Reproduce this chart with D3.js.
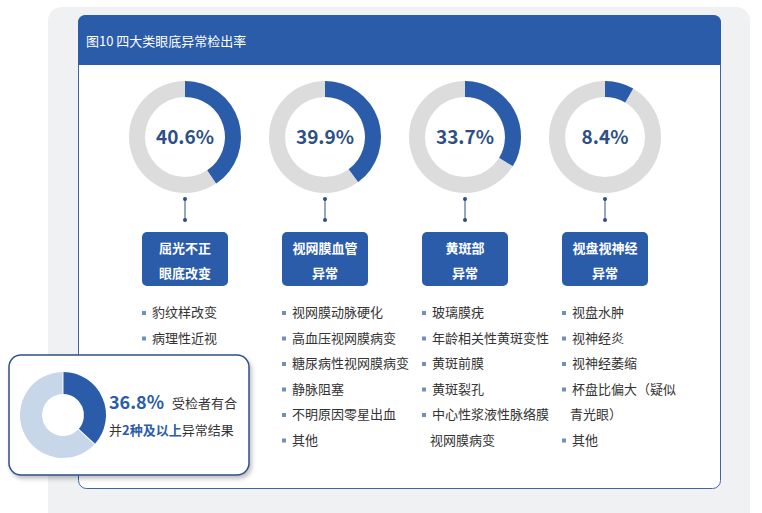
<!DOCTYPE html>
<html><head><meta charset="utf-8">
<script src="https://cdn.jsdelivr.net/npm/d3@7"></script>
<style>body{margin:0;background:#fff}svg{font-family:"Noto Sans CJK SC","Noto Sans",sans-serif}</style>
</head><body><svg id="c" width="762" height="513"></svg>
<script>
const title = "图10 四大类眼底异常检出率";
const categories = [["屈光不正","眼底改变"],["视网膜血管","异常"],["黄斑部","异常"],["视盘视神经","异常"]];
const rates = [40.6, 39.9, 33.7, 8.4];
const items = [
  ["豹纹样改变","病理性近视"],
  ["视网膜动脉硬化","高血压视网膜病变","糖尿病性视网膜病变","静脉阻塞","不明原因零星出血","其他"],
  ["玻璃膜疣","年龄相关性黄斑变性","黄斑前膜","黄斑裂孔","中心性浆液性脉络膜","视网膜病变"],
  ["视盘水肿","视神经炎","视神经萎缩","杯盘比偏大（疑似","青光眼）","其他"]
];
const bulletless = [[],[],[5],[4]];
const multiRate = 36.8;
const multiText1 = "受检者有合";
const multiText2 = ["并","2种及以上","异常结果"];

const blue = "#2a5caa", grey = "#dcdcdc";
const svg = d3.select("#c");
const defs = svg.append("defs");
const f = defs.append("filter").attr("id","sh").attr("x","-10%").attr("y","-10%").attr("width","130%").attr("height","130%");
f.append("feDropShadow").attr("dx",2).attr("dy",3).attr("stdDeviation",2).attr("flood-color","#000").attr("flood-opacity",0.25);

svg.append("rect").attr("x",48).attr("y",7).attr("width",702).attr("height",520).attr("rx",14).attr("fill","#f0f1f3");
svg.append("rect").attr("x",78.5).attr("y",15.5).attr("width",642).attr("height",473).attr("rx",8).attr("fill","#fff").attr("stroke","#3d65a6").attr("stroke-width",1);
svg.append("path").attr("d","M78,65 V23 Q78,15 86,15 H713 Q721,15 721,23 V65 Z").attr("fill",blue);
svg.append("text").attr("x",86).attr("y",46).attr("fill","#fff").attr("font-size",13).text(title);

const x = d3.scalePoint().domain(d3.range(4)).range([185,605]);
const ang = d3.scaleLinear().domain([0,100]).range([0,2*Math.PI]);
const arc = d3.arc().innerRadius(40).outerRadius(56);
rates.forEach((r,i)=>{
  const g = svg.append("g").attr("transform",`translate(${x(i)},137)`);
  g.append("path").attr("d",arc({startAngle:0,endAngle:2*Math.PI})).attr("fill",grey);
  g.append("path").attr("d",arc({startAngle:0,endAngle:ang(r)})).attr("fill",blue);
  g.append("text").attr("y",7).attr("text-anchor","middle").attr("font-size",19).attr("font-weight","bold").attr("fill","#2d4f86").text(r.toFixed(1)+"%");
  const cx = x(i);
  svg.append("line").attr("x1",cx).attr("x2",cx).attr("y1",199).attr("y2",220).attr("stroke","#2d4f86");
  svg.selectAll(null).data([199,220]).enter().append("circle").attr("cx",cx).attr("cy",d=>d).attr("r",2).attr("fill","#2d4f86");
  svg.append("rect").attr("x",cx-43).attr("y",232).attr("width",86).attr("height",54).attr("rx",5).attr("fill",blue);
  categories[i].forEach((t,j)=>svg.append("text").attr("x",cx).attr("y",253+j*25).attr("text-anchor","middle").attr("fill","#fff").attr("font-size",13).attr("font-weight","bold").text(t));
  items[i].forEach((t,j)=>{
    const y = 317+j*25.5, lx = cx-40;
    if(!bulletless[i].includes(j)) svg.append("rect").attr("x",lx-3).attr("y",y-6).attr("width",4).attr("height",4).attr("fill","#6f8fc0");
    svg.append("text").attr("x",lx+ (bulletless[i].includes(j)?5:7) ).attr("y",y).attr("font-size",13).attr("fill","#333").text(t);
  });
});

svg.append("rect").attr("x",9).attr("y",355).attr("width",240).attr("height",120).attr("rx",12).attr("fill","#fff").attr("stroke","#2d4f86").attr("stroke-width",1.5).attr("filter","url(#sh)");
const arc2 = d3.arc().innerRadius(21).outerRadius(43).padAngle(0.02);
const g2 = svg.append("g").attr("transform","translate(63,415)");
g2.append("path").attr("d",arc2({startAngle:ang(multiRate),endAngle:2*Math.PI})).attr("fill","#c8d6ea");
g2.append("path").attr("d",arc2({startAngle:0,endAngle:ang(multiRate)})).attr("fill",blue);
svg.append("text").attr("x",109).attr("y",409).attr("font-size",18).attr("font-weight","bold").attr("fill",blue).text(multiRate.toFixed(1)+"%");
svg.append("text").attr("x",172).attr("y",408).attr("font-size",13).attr("fill","#333").text(multiText1);
const t2 = svg.append("text").attr("x",109).attr("y",435).attr("font-size",13).attr("fill","#333");
t2.append("tspan").text(multiText2[0]);
t2.append("tspan").attr("fill",blue).attr("font-weight","bold").text(multiText2[1]);
t2.append("tspan").text(multiText2[2]);
</script></body></html>
